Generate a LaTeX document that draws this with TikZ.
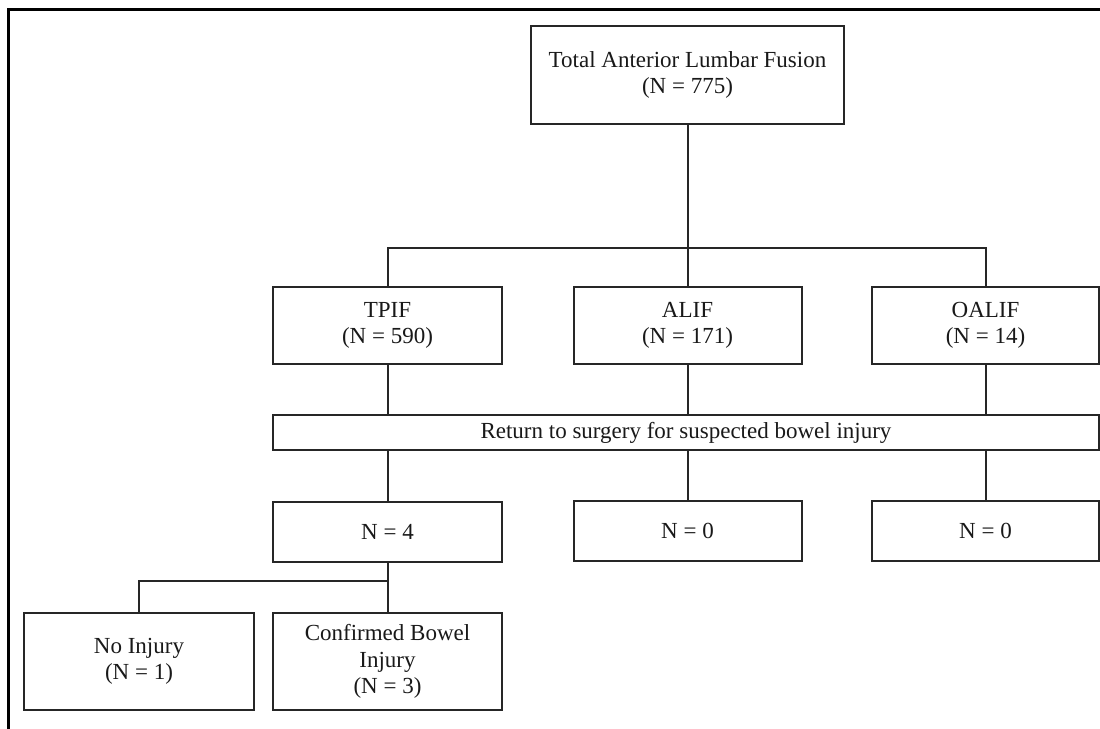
\documentclass[tikz,border=0pt]{standalone}
\usepackage{fontspec}
\setmainfont{Liberation Serif}
\begin{document}
\begin{tikzpicture}[x=1pt,y=-1pt,
  box/.style={draw=black!85, line width=2pt, fill=white, align=center, inner sep=0pt,
    font=\fontsize{23}{26.5}\selectfont, text=black!90},
  conn/.style={draw=black!85, line width=2pt}]
\useasboundingbox (0,0) rectangle (1100,728);
\fill[white] (0,0) rectangle (1100,728);
\draw[line width=3pt] (8,730) -- (8,9) -- (1102,9);

\node[box, minimum width=313pt, minimum height=98pt] (top) at (687.5,75) {Total Anterior Lumbar Fusion\\(N = 775)};
\node[box, minimum width=229pt, minimum height=77pt] (tpif) at (387.5,325.5) {TPIF\\(N = 590)};
\node[box, minimum width=228pt, minimum height=77pt] (alif) at (687.5,325.5) {ALIF\\(N = 171)};
\node[box, minimum width=227pt, minimum height=77pt] (oalif) at (985.5,325.5) {OALIF\\(N = 14)};
\node[box, minimum width=826pt, minimum height=35pt] (bar) at (686,432.5) {Return to surgery for suspected bowel injury};
\node[box, minimum width=229pt, minimum height=60pt] (n4) at (387.5,532) {N = 4};
\node[box, minimum width=228pt, minimum height=60pt] (n0a) at (687.5,531) {N = 0};
\node[box, minimum width=227pt, minimum height=60pt] (n0b) at (985.5,531) {N = 0};
\node[box, minimum width=230pt, minimum height=97pt] (noinj) at (139,661.5) {No Injury\\(N = 1)};
\node[box, minimum width=229pt, minimum height=97pt] (conf) at (387.5,661.5) {Confirmed Bowel\\Injury\\(N = 3)};

\coordinate (split) at (687.5,248);
\coordinate (split2) at (387.5,581);

\draw[conn] (top.south) -- (split);
\draw[conn] (tpif.north) |- (split) -| (oalif.north);
\draw[conn] (split) -- (alif.north);
\draw[conn] (tpif.south) -- (tpif.south |- bar.north);
\draw[conn] (alif.south) -- (alif.south |- bar.north);
\draw[conn] (oalif.south) -- (oalif.south |- bar.north);
\draw[conn] (tpif.south |- bar.south) -- (n4.north);
\draw[conn] (alif.south |- bar.south) -- (n0a.north);
\draw[conn] (oalif.south |- bar.south) -- (n0b.north);
\draw[conn] (n4.south) -- (conf.north);
\draw[conn] (noinj.north) |- (split2);
\end{tikzpicture}
\end{document}
